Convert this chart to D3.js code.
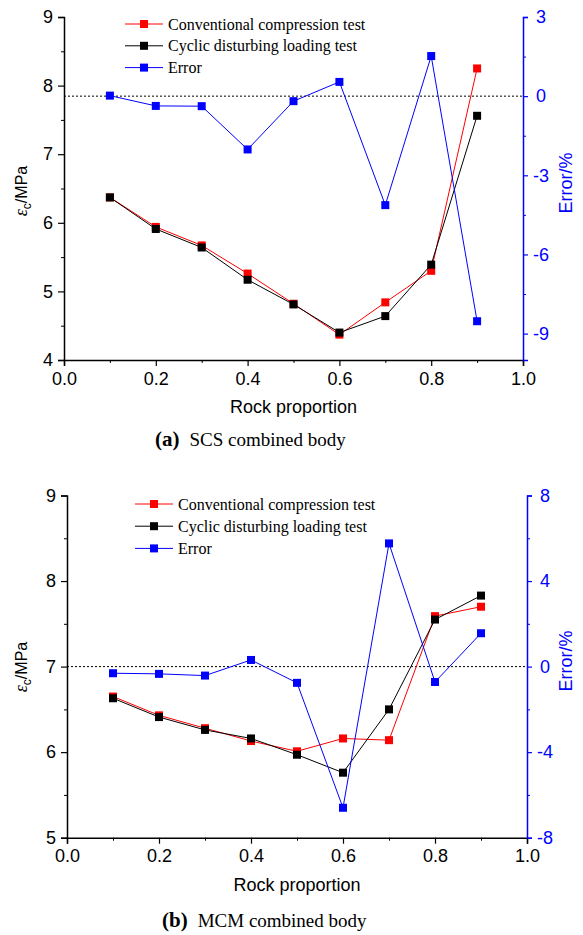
<!DOCTYPE html>
<html>
<head>
<meta charset="utf-8">
<script src="https://cdn.jsdelivr.net/npm/d3@7"></script>
<style>
  html, body { margin: 0; padding: 0; background: #fff; }
  svg { display: block; }
</style>
</head>
<body>
<svg id="chart" width="583" height="935"></svg>
<script>
// ---------- DATA ----------
const rockProportion = [0.1, 0.2, 0.3, 0.4, 0.5, 0.6, 0.7, 0.8, 0.9];

const scsConventional = [6.37, 5.94, 5.67, 5.26, 4.82, 4.37, 4.84, 5.30, 8.25];
const scsCyclic       = [6.37, 5.91, 5.64, 5.17, 4.81, 4.40, 4.64, 5.39, 7.56];
const scsError        = [0.02, -0.37, -0.38, -2.02, -0.19, 0.54, -4.13, 1.52, -8.53];

const mcmConventional = [6.65, 6.43, 6.28, 6.13, 6.01, 6.16, 6.14, 7.59, 7.70];
const mcmCyclic       = [6.63, 6.41, 6.26, 6.16, 5.97, 5.76, 6.50, 7.55, 7.83];
const mcmError        = [-0.31, -0.34, -0.42, 0.31, -0.76, -6.60, 5.76, -0.72, 1.56];

const legendLabels = ["Conventional compression test", "Cyclic disturbing loading test", "Error"];
const seriesColors = ["#ff0000", "#000000", "#0000ff"];

const xTicks = [0.0, 0.2, 0.4, 0.6, 0.8, 1.0];
const xMinorTicks = [0.1, 0.3, 0.5, 0.7, 0.9];

const scsLeftTicks = [4, 5, 6, 7, 8, 9];
const scsLeftMinor = [4.5, 5.5, 6.5, 7.5, 8.5];
const scsRightTicks = [-9, -6, -3, 0, 3];
const scsRightMinor = [-7.5, -4.5, -1.5, 1.5];

const mcmLeftTicks = [5, 6, 7, 8, 9];
const mcmLeftMinor = [5.5, 6.5, 7.5, 8.5];
const mcmRightTicks = [-8, -4, 0, 4, 8];
const mcmRightMinor = [-6, -2, 2, 6];

const captions = [["(a)", "SCS combined body"], ["(b)", "MCM combined body"]];

// ---------- DRAWING ----------
const svg = d3.select("#chart");
const SANS = "Liberation Sans, Arial, sans-serif";
const SERIF = "Liberation Serif, Times New Roman, serif";

function drawPanel(p) {
  const g = svg.append("g");
  const x = d3.scaleLinear().domain([0, 1]).range([p.x0, p.x1]);
  const yL = d3.scaleLinear().domain(p.leftDomain).range([p.yBottom, p.yTop]);
  const yR = d3.scaleLinear().domain(p.rightDomain).range([p.yBottom, p.yTop]);

  // dotted zero line for Error
  g.append("line")
    .attr("x1", p.x0).attr("x2", p.x1)
    .attr("y1", yR(0)).attr("y2", yR(0))
    .attr("stroke", "#000").attr("stroke-width", 1)
    .attr("stroke-dasharray", "2,2");

  // bottom axis
  const xAxis = d3.axisBottom(x).tickValues(xTicks).tickFormat(d3.format(".1f")).tickSizeOuter(0).tickSize(6).tickPadding(6);
  const gx = g.append("g").attr("transform", `translate(0,${p.yBottom})`).call(xAxis);
  gx.select(".domain").attr("stroke-width", 1.5);
  gx.selectAll(".tick line").attr("stroke-width", 1.2);
  gx.selectAll("text").attr("font-family", SANS).attr("font-size", 18).attr("fill", "#000");
  const xMinor = d3.axisBottom(x).tickValues(xMinorTicks).tickFormat("").tickSizeOuter(0).tickSize(3);
  const gxm = g.append("g").attr("transform", `translate(0,${p.yBottom})`).call(xMinor);
  gxm.select(".domain").remove();

  // left axis
  const yAxis = d3.axisLeft(yL).tickValues(p.leftTicks).tickFormat(d3.format("d")).tickSizeOuter(0).tickSize(6).tickPadding(5);
  const gy = g.append("g").attr("transform", `translate(${p.x0},0)`).call(yAxis);
  gy.select(".domain").attr("stroke-width", 1.5);
  gy.selectAll(".tick line").attr("stroke-width", 1.2);
  gy.selectAll("text").attr("font-family", SANS).attr("font-size", 18).attr("fill", "#000");
  const yMinor = d3.axisLeft(yL).tickValues(p.leftMinor).tickFormat("").tickSizeOuter(0).tickSize(3);
  const gym = g.append("g").attr("transform", `translate(${p.x0},0)`).call(yMinor);
  gym.select(".domain").remove();

  // right axis (blue)
  const blue = seriesColors[2];
  const rAxis = d3.axisRight(yR).tickValues(p.rightTicks).tickFormat(d => String(d)).tickSizeOuter(0).tickSize(5).tickPadding(6);
  const gr = g.append("g").attr("transform", `translate(${p.x1},0)`).call(rAxis);
  gr.select(".domain").attr("stroke", blue).attr("stroke-width", 1.5);
  gr.selectAll(".tick line").attr("stroke", blue).attr("stroke-width", 1.2);
  gr.selectAll("text").attr("font-family", SANS).attr("font-size", 18).attr("fill", blue)
    .attr("text-anchor", "middle").attr("x", 18);
  const rMinor = d3.axisRight(yR).tickValues(p.rightMinor).tickFormat("").tickSizeOuter(0).tickSize(3);
  const grm = g.append("g").attr("transform", `translate(${p.x1},0)`).call(rMinor);
  grm.select(".domain").remove();
  grm.selectAll(".tick line").attr("stroke", blue);

  // axis titles
  g.append("text")
    .attr("x", (p.x0 + p.x1) / 2).attr("y", p.xLabelY)
    .attr("text-anchor", "middle").attr("font-family", SANS).attr("font-size", 18)
    .text("Rock proportion");

  const yl = g.append("text")
    .attr("transform", `translate(27,${p.yLabelCY}) rotate(-90)`)
    .attr("text-anchor", "middle").attr("font-family", SANS).attr("font-size", 16);
  yl.append("tspan").attr("font-family", SERIF).attr("font-style", "italic").attr("font-size", 18).text("ε");
  yl.append("tspan").attr("dy", 4).attr("font-size", 12).text("c");
  yl.append("tspan").attr("dy", -4).text("/MPa");

  g.append("text")
    .attr("transform", `translate(572,${p.rLabelCY}) rotate(-90)`)
    .attr("text-anchor", "middle").attr("font-family", SANS).attr("font-size", 18)
    .attr("fill", blue).text("Error/%");

  // series
  const series = [
    { vals: p.conv, scale: yL, color: seriesColors[0] },
    { vals: p.cyc, scale: yL, color: seriesColors[1] },
    { vals: p.err, scale: yR, color: seriesColors[2] }
  ];
  const ms = 8;
  series.forEach(s => {
    const pts = rockProportion.map((r, i) => [x(r), s.scale(s.vals[i])]);
    g.append("path").attr("d", d3.line()(pts))
      .attr("fill", "none").attr("stroke", s.color).attr("stroke-width", 1);
    g.selectAll(null).data(pts).enter().append("rect")
      .attr("x", d => d[0] - ms / 2).attr("y", d => d[1] - ms / 2)
      .attr("width", ms).attr("height", ms).attr("fill", s.color);
  });

  // legend
  legendLabels.forEach((lab, i) => {
    const cy = p.legY + i * p.legStep;
    g.append("line").attr("x1", p.legX).attr("x2", p.legX + 38)
      .attr("y1", cy).attr("y2", cy).attr("stroke", seriesColors[i]).attr("stroke-width", 1);
    g.append("rect").attr("x", p.legX + 19 - 4).attr("y", cy - 4).attr("width", 8).attr("height", 8)
      .attr("fill", seriesColors[i]);
    g.append("text").attr("x", p.legX + 43).attr("y", cy + 5.5)
      .attr("font-family", SERIF).attr("font-size", 16).text(lab);
  });

  // caption
  const cap = g.append("text").attr("x", p.capX).attr("y", p.capY)
    .attr("font-family", SERIF).attr("font-size", 19);
  cap.append("tspan").attr("font-weight", "bold").attr("font-size", 21).text(p.caption[0]);
  cap.append("tspan").attr("dx", 10).text(p.caption[1]);
}

drawPanel({
  x0: 64, x1: 523, yTop: 17, yBottom: 360,
  leftDomain: [4, 9], rightDomain: [-10, 3],
  leftTicks: scsLeftTicks, leftMinor: scsLeftMinor,
  rightTicks: scsRightTicks, rightMinor: scsRightMinor,
  conv: scsConventional, cyc: scsCyclic, err: scsError,
  xLabelY: 413, yLabelCY: 191, rLabelCY: 183,
  legX: 125, legY: 24, legStep: 21.8,
  caption: captions[0], capX: 155, capY: 446
});

drawPanel({
  x0: 67, x1: 527, yTop: 495.5, yBottom: 837.7,
  leftDomain: [5, 9], rightDomain: [-8, 8],
  leftTicks: mcmLeftTicks, leftMinor: mcmLeftMinor,
  rightTicks: mcmRightTicks, rightMinor: mcmRightMinor,
  conv: mcmConventional, cyc: mcmCyclic, err: mcmError,
  xLabelY: 891, yLabelCY: 667, rLabelCY: 661,
  legX: 135, legY: 504, legStep: 22.2,
  caption: captions[1], capX: 162, capY: 927
});
</script>
</body>
</html>
